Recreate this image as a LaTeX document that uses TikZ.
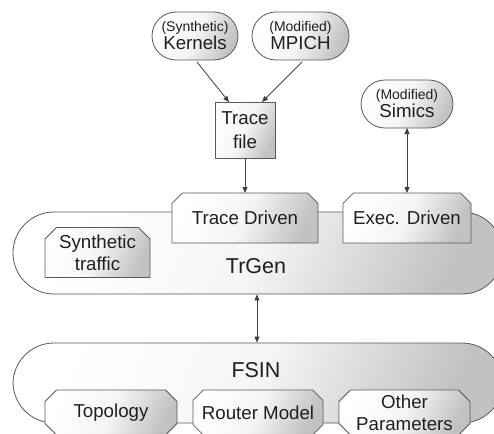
\documentclass[tikz,border=0pt]{standalone}
\usepackage{fontspec}
\setmainfont{Liberation Sans}
\usetikzlibrary{arrows.meta,shapes.misc,calc}
\newcommand{\smalltxt}{\fontsize{14}{16}\selectfont}
\begin{document}
\begin{tikzpicture}[x=1pt,y=-1pt,
  outline/.style={draw=black!65, line width=0.8pt},
  grad/.style={top color=white, bottom color=black!24, middle color=black!4, shading angle=65},
  txt/.style={text=black!88, font=\fontsize{18.7}{23}\selectfont, align=center, inner sep=0pt, outer sep=0pt},
  pill/.style={outline, grad, txt, rectangle, rounded corners=24pt, minimum width=#1, minimum height=48pt},
  bigpill/.style={outline, grad, rectangle, rounded corners=41pt, minimum width=490pt, minimum height=#1},
  filebox/.style={outline, grad, txt, rectangle, minimum width=60pt, minimum height=56pt},
  tabbox/.style={outline, grad, txt, chamfered rectangle, chamfered rectangle xsep=8pt,
    chamfered rectangle corners={north west,north east}, minimum width=#1, minimum height=50pt},
  lowbox/.style={outline, grad, txt, chamfered rectangle, chamfered rectangle xsep=8pt,
    minimum width=#1, minimum height=45pt},
  conn/.style={draw=black!75, line width=0.8pt},
  tip/.style={-{Triangle[length=6pt,width=5pt]}},
  tips/.style={{Triangle[length=6pt,width=5pt]}-{Triangle[length=6pt,width=5pt]}}]

\useasboundingbox (0,0) rectangle (494,433);
\clip (0,0) rectangle (494,433);

% input programs
\node[pill=86pt] (kern) at (195,36) {{\smalltxt (Synthetic)}\\[-5pt]Kernels};
\node[pill=97pt] (mpich) at (300.5,36) {{\smalltxt (Modified)}\\[-5pt]MPICH};
\node[pill=92pt] (simics) at (407,104) {{\smalltxt (Modified)}\\[-5pt]Simics};
\node[filebox] (tfile) at (245,130) {Trace\\[1pt]file};

% traffic generator
\node[bigpill=82pt] (trgen) at (258,253) {};
\node[txt, font=\fontsize{21.5}{26}\selectfont] (trgenlbl) at (256,266) {TrGen};
\node[tabbox=146pt] (tdriven) at (245,218) {Trace Driven};
\node[tabbox=128pt] (edriven) at (407,218) {Exec. Driven};
\node[tabbox=105pt] (synth) at (97.5,252.5) {Synthetic\\[-1pt]traffic};

% network simulator
\node[bigpill=80pt] (fsin) at (258,383) {};
\node[txt, font=\fontsize{21.5}{26}\selectfont] (fsinlbl) at (256,370) {FSIN};
\node[lowbox=132pt] (topo) at (111,412.5) {Topology};
\node[lowbox=130pt] (router) at (258,412.5) {Router Model};
\node[lowbox=131pt] (other) at (404.5,412.5) {Other\\[-1pt]Parameters};

% connectors
\draw[conn, tip] ([xshift=2pt,yshift=-2pt]kern.south) -- ([xshift=14pt]tfile.north west);
\draw[conn, tip] ([xshift=1.5pt,yshift=-2pt]mpich.south) -- ([xshift=-13pt]tfile.north east);
\draw[conn, tip] (tfile.south) -- (tdriven.north);
\draw[conn, tips] (simics.south) -- (edriven.north);
\draw[conn, tips] ([xshift=-1pt]trgen.south) -- ([xshift=-1pt]fsin.north);
\end{tikzpicture}
\end{document}
